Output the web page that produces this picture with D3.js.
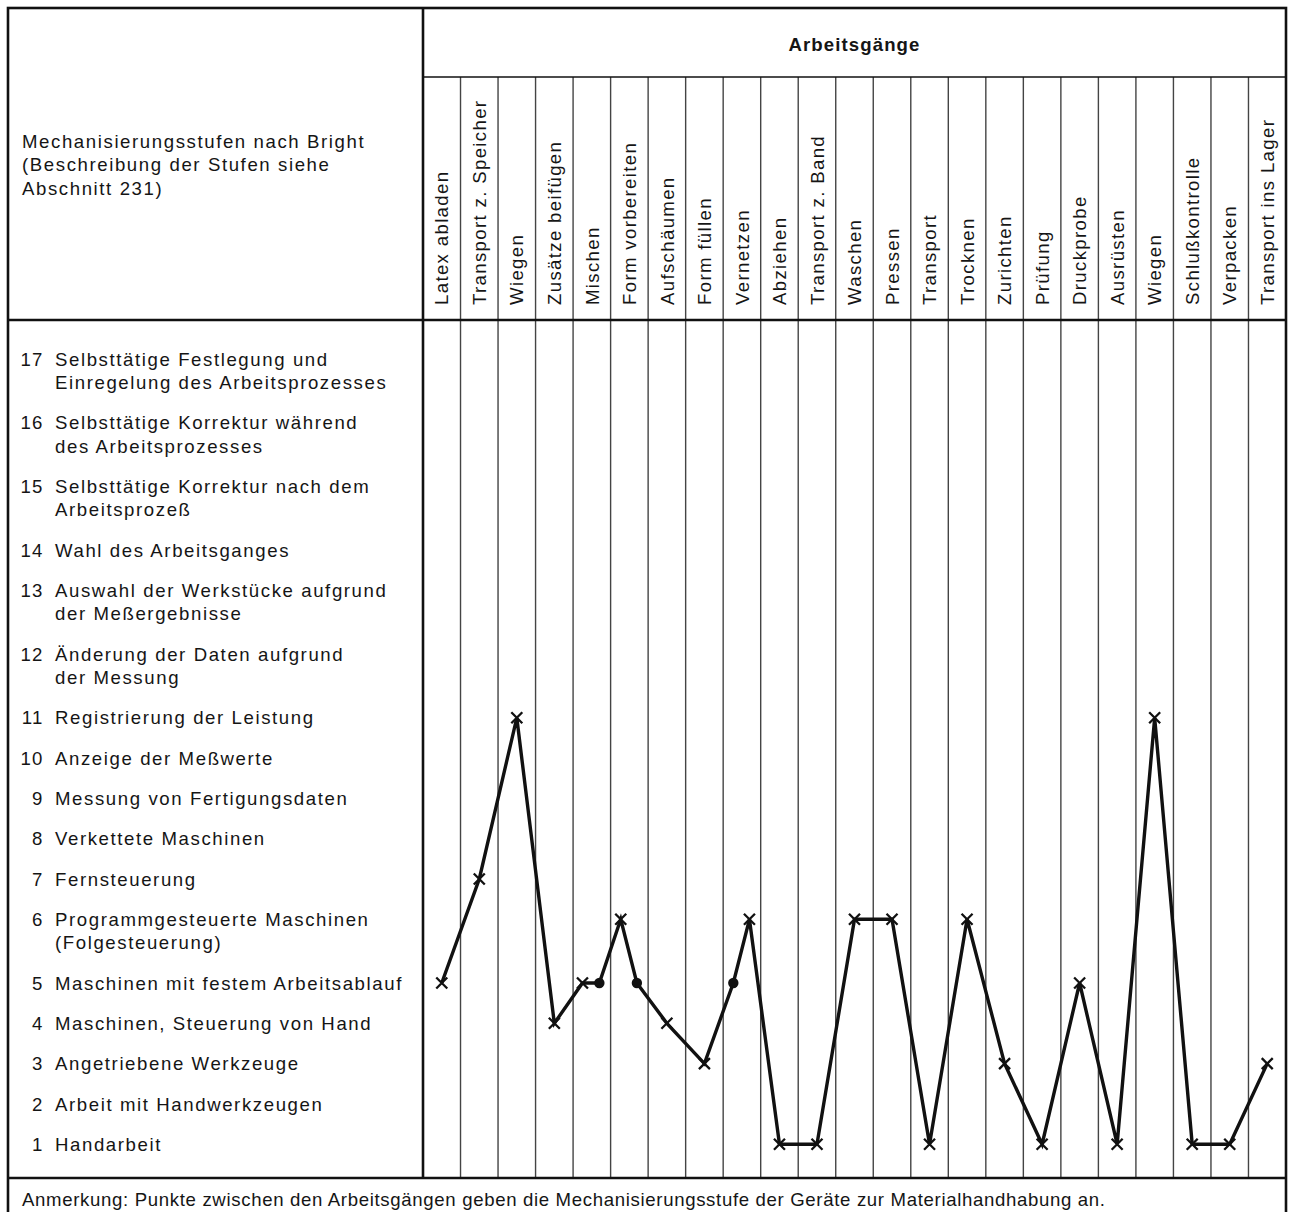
<!DOCTYPE html>
<html><head><meta charset="utf-8">
<script src="https://cdn.jsdelivr.net/npm/d3@7"></script>
<style>
body{margin:0;background:#fff}
text{font-family:"Liberation Sans",Arial,Helvetica,sans-serif;fill:#151515}
</style>
</head><body><svg id="c" width="1291" height="1212"></svg>
<script>
// ---------- data ----------
const operations = ["Latex abladen","Transport z. Speicher","Wiegen","Zusätze beifügen","Mischen","Form vorbereiten","Aufschäumen","Form füllen","Vernetzen","Abziehen","Transport z. Band","Waschen","Pressen","Transport","Trocknen","Zurichten","Prüfung","Druckprobe","Ausrüsten","Wiegen","Schlußkontrolle","Verpacken","Transport ins Lager"];
const operationLevels = [5,7,11,4,5,6,4,3,6,1,1,6,6,1,6,3,1,5,1,11,1,1,3];
// where the mark sits inside its column (0.5 = centre of column)
const operationPlacement = [0.5,0.5,0.5,0.5,0.25,0.27,0.5,0.5,0.7,0.5,0.5,0.5,0.5,0.5,0.5,0.5,0.5,0.5,0.5,0.5,0.5,0.5,0.5];
// material-handling points between operations (position on the column axis)
const handlingPositions = [4.7,5.7,8.27];
const handlingLevels = [5,5,5];

const levelNumbers = [17,16,15,14,13,12,11,10,9,8,7,6,5,4,3,2,1];
const levelLabels = [
  ["Selbsttätige Festlegung und","Einregelung des Arbeitsprozesses"],
  ["Selbsttätige Korrektur während","des Arbeitsprozesses"],
  ["Selbsttätige Korrektur nach dem","Arbeitsprozeß"],
  ["Wahl des Arbeitsganges"],
  ["Auswahl der Werkstücke aufgrund","der Meßergebnisse"],
  ["Änderung der Daten aufgrund","der Messung"],
  ["Registrierung der Leistung"],
  ["Anzeige der Meßwerte"],
  ["Messung von Fertigungsdaten"],
  ["Verkettete Maschinen"],
  ["Fernsteuerung"],
  ["Programmgesteuerte Maschinen","(Folgesteuerung)"],
  ["Maschinen mit festem Arbeitsablauf"],
  ["Maschinen, Steuerung von Hand"],
  ["Angetriebene Werkzeuge"],
  ["Arbeit mit Handwerkzeugen"],
  ["Handarbeit"]
];
const headerTitle = "Arbeitsgänge";
const stubTitle = ["Mechanisierungsstufen nach Bright","(Beschreibung der Stufen siehe","Abschnitt 231)"];
const noteText = "Anmerkung: Punkte zwischen den Arbeitsgängen geben die Mechanisierungsstufe der Geräte zur Materialhandhabung an.";

// ---------- layout ----------
const svg = d3.select("#c");
const L = 8, R = 1286, T = 8, B = 1230;
const divX = 423, subY = 77, headY = 320, noteY = 1178;
const fs = 18.6, ls = 1.6, lineH = 23.4, rowGap = 40.3;
const capH = fs * 0.716;

svg.append("rect").attr("width",1291).attr("height",1212).attr("fill","#fff");

const x = d3.scaleLinear().domain([0, operations.length]).range([divX, R]);

// row positions derived from number of lines of each label
const rowY = [];
let acc = 359;
levelLabels.forEach((lab) => { rowY.push(acc); acc += rowGap + (lab.length - 1) * lineH; });
const y = d3.scaleOrdinal().domain(levelNumbers).range(rowY);

// grid: column separators
svg.append("g").selectAll("line").data(d3.range(1, operations.length)).join("line")
  .attr("x1", d => x(d)).attr("x2", d => x(d)).attr("y1", subY).attr("y2", noteY)
  .attr("stroke", "#444").attr("stroke-width", 1.4);

// frame lines
const frame = svg.append("g").attr("stroke", "#111").attr("fill", "none");
frame.append("rect").attr("x", L).attr("y", T).attr("width", R - L).attr("height", B - T).attr("stroke-width", 2.6);
frame.append("line").attr("x1", divX).attr("x2", divX).attr("y1", T).attr("y2", noteY).attr("stroke-width", 2.6);
frame.append("line").attr("x1", divX).attr("x2", R).attr("y1", subY).attr("y2", subY).attr("stroke-width", 1.5);
frame.append("line").attr("x1", L).attr("x2", R).attr("y1", headY).attr("y2", headY).attr("stroke-width", 2.6);
frame.append("line").attr("x1", L).attr("x2", R).attr("y1", noteY).attr("y2", noteY).attr("stroke-width", 2.4);

// header title
svg.append("text").attr("x", (divX + R) / 2).attr("y", 51).attr("text-anchor", "middle")
  .attr("font-size", fs).attr("font-weight", "bold").attr("letter-spacing", 1.1).text(headerTitle);

// stub title
svg.append("g").selectAll("text").data(stubTitle).join("text")
  .attr("x", 22).attr("y", (d, i) => 148 + i * lineH)
  .attr("font-size", fs).attr("letter-spacing", ls).text(d => d);

// rotated column labels
svg.append("g").selectAll("text").data(operations).join("text")
  .attr("transform", (d, i) => `translate(${x(i + 0.5) + capH / 2},305) rotate(-90)`)
  .attr("font-size", fs).attr("letter-spacing", 1.35).text(d => d);

// level labels
const lg = svg.append("g").selectAll("g").data(levelNumbers).join("g");
lg.append("text").attr("x", 43.5).attr("y", d => y(d) + capH / 2).attr("text-anchor", "end")
  .attr("font-size", fs).attr("letter-spacing", 1.2).text(d => d);
lg.each(function(d, i) {
  d3.select(this).selectAll("text.lab").data(levelLabels[i]).join("text").attr("class", "lab")
    .attr("x", 55).attr("y", (t, j) => y(d) + capH / 2 + j * lineH)
    .attr("font-size", fs).attr("letter-spacing", ls).text(t => t);
});

// note
svg.append("text").attr("x", 22).attr("y", 1206).attr("font-size", fs)
  .attr("textLength", 1083).attr("lengthAdjust", "spacing").text(noteText);

// ---------- data marks ----------
const pts = operations.map((o, i) => ({pos: i + operationPlacement[i], level: operationLevels[i], kind: "op"}))
  .concat(handlingPositions.map((p, i) => ({pos: p, level: handlingLevels[i], kind: "dot"})))
  .sort((a, b) => a.pos - b.pos);

svg.append("path").datum(pts)
  .attr("d", d3.line().x(d => x(d.pos)).y(d => y(d.level)))
  .attr("fill", "none").attr("stroke", "#111").attr("stroke-width", 3.4).attr("stroke-linejoin", "miter");

const s = 5.5;
svg.append("g").selectAll("path").data(pts.filter(d => d.kind === "op")).join("path")
  .attr("d", d => { const cx = x(d.pos), cy = y(d.level);
    return `M${cx - s},${cy - s}L${cx + s},${cy + s}M${cx - s},${cy + s}L${cx + s},${cy - s}`; })
  .attr("stroke", "#111").attr("stroke-width", 2.3).attr("fill", "none");

svg.append("g").selectAll("circle").data(pts.filter(d => d.kind === "dot")).join("circle")
  .attr("cx", d => x(d.pos)).attr("cy", d => y(d.level)).attr("r", 5.2).attr("fill", "#111");
</script>
</body></html>
